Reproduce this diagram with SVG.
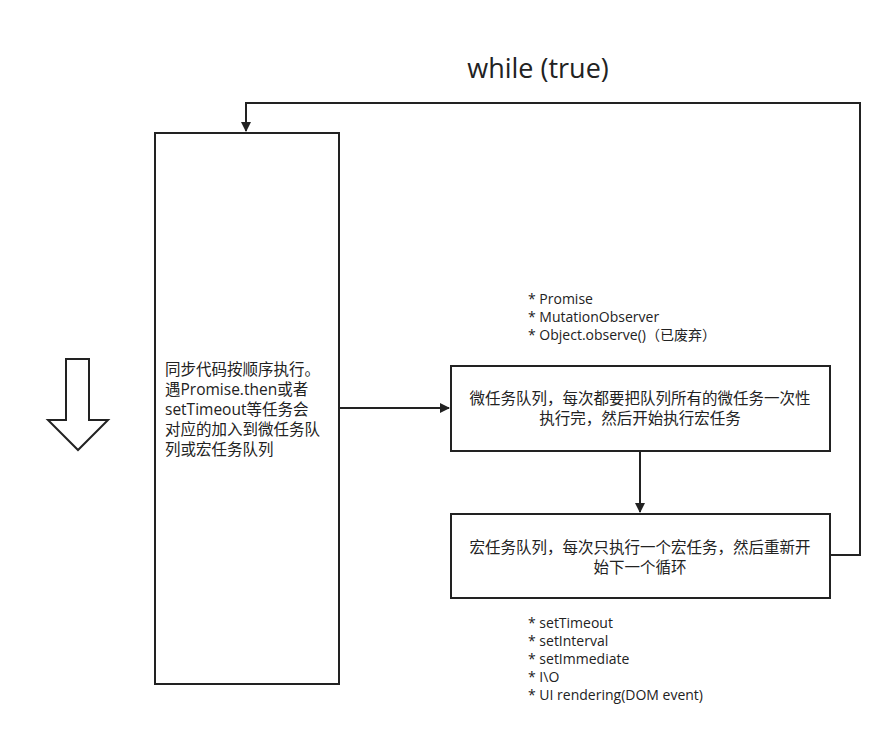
<svg xmlns="http://www.w3.org/2000/svg" width="892" height="738" viewBox="0 0 892 738">
<defs>
<style>
.b{fill:#fff;stroke:#222;stroke-width:2}
.t{font-family:"Open Sans","Noto Sans CJK SC",sans-serif;font-size:14px;fill:#222}
.m{font-size:15.5px}
.c{fill:none;stroke:#222;stroke-width:2}
</style>
<marker id="a" markerWidth="10" markerHeight="10" refX="9" refY="5" orient="auto" markerUnits="userSpaceOnUse"><path d="M0,0 L10,5 L0,10 Z" fill="#222"/></marker>
</defs>
<rect width="892" height="738" fill="#fff"/>
<text x="538" y="78" text-anchor="middle" style="font-family:'Open Sans',sans-serif;font-size:27px;fill:#222">while (true)</text>
<g id="arrowDown"><path d="M66,359 H89 V420 H108 L78,450 L48,420 H66 Z" fill="#fff" stroke="#222" stroke-width="2"/></g>
<g id="sync"><rect class="b" x="155" y="133" width="184" height="551"/>
<text class="t m"><tspan x="165" y="375">同步代码按顺序执行。</tspan><tspan x="165" y="395">遇Promise.then或者</tspan><tspan x="165" y="415">setTimeout等任务会</tspan><tspan x="165" y="435">对应的加入到微任务队</tspan><tspan x="165" y="455">列或宏任务队列</tspan></text></g>
<g id="micro"><rect class="b" x="451" y="366" width="379" height="85"/>
<text class="t m" text-anchor="middle"><tspan x="640" y="404">微任务队列，每次都要把队列所有的微任务一次性</tspan><tspan x="640" y="424">执行完，然后开始执行宏任务</tspan></text></g>
<g id="macro"><rect class="b" x="451" y="514" width="379" height="84"/>
<text class="t m" text-anchor="middle"><tspan x="640" y="553">宏任务队列，每次只执行一个宏任务，然后重新开</tspan><tspan x="640" y="573">始下一个循环</tspan></text></g>
<g id="microNote"><text class="t"><tspan x="528" y="304">* Promise</tspan><tspan x="528" y="322">* MutationObserver</tspan><tspan x="528" y="340">* Object.observe()（已废弃）</tspan></text></g>
<g id="macroNote"><text class="t"><tspan x="528" y="628">* setTimeout</tspan><tspan x="528" y="646">* setInterval</tspan><tspan x="528" y="664">* setImmediate</tspan><tspan x="528" y="682">* I\O</tspan><tspan x="528" y="700">* UI rendering(DOM event)</tspan></text></g>
<g id="connectors">
<path class="c" d="M339,408 H449" marker-end="url(#a)"/>
<path class="c" d="M640,451 V512" marker-end="url(#a)"/>
<path class="c" d="M830,555 H860 V103 H246 V131" marker-end="url(#a)"/>
</g>
</svg>
